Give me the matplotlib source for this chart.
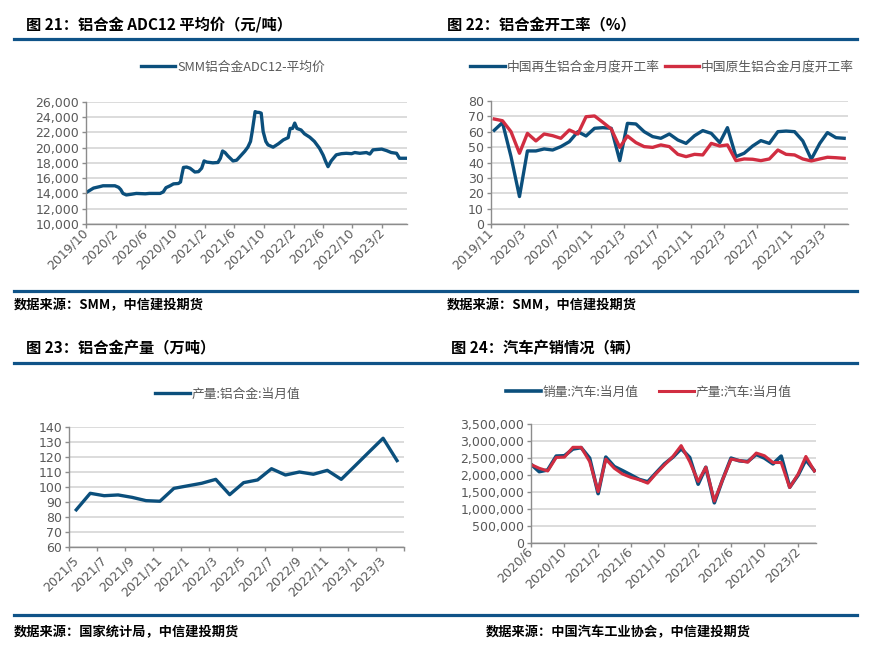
import matplotlib
matplotlib.use("Agg")
import matplotlib.pyplot as plt
import matplotlib.ticker as mticker
from matplotlib.lines import Line2D
import numpy as np
import pandas as pd

plt.rcParams['font.family'] = ['Noto Sans CJK SC', 'DejaVu Sans']

W, H = 888, 649
BLUE = '#0B4F7C'
RED = '#D12D41'
RULE = '#0F5388'
GRAY_TXT = '#595959'
GRID = '#D9D9D9'
SPINE = '#8C8C8C'

# ---- 图21: ADC12 average price ----
adc_dates = [
    "2019-10-01", "2019-11-01", "2019-11-28", "2019-12-10", "2020-01-28", "2020-02-12",
    "2020-02-21", "2020-03-01", "2020-03-15", "2020-04-06", "2020-04-25", "2020-06-01",
    "2020-06-18", "2020-08-01", "2020-08-14", "2020-08-25", "2020-09-11", "2020-09-25",
    "2020-10-15", "2020-10-24", "2020-10-28", "2020-11-05", "2020-11-18", "2020-12-02",
    "2020-12-22", "2021-01-06", "2021-01-19", "2021-01-29", "2021-02-09", "2021-03-06",
    "2021-03-27", "2021-04-06", "2021-04-15", "2021-04-25", "2021-05-07", "2021-05-28",
    "2021-06-12", "2021-06-25", "2021-07-15", "2021-07-28", "2021-08-08", "2021-08-15",
    "2021-08-21", "2021-08-27", "2021-09-05", "2021-09-12", "2021-09-21", "2021-09-29",
    "2021-10-10", "2021-10-19", "2021-11-09", "2021-12-01", "2021-12-21", "2022-01-10",
    "2022-01-18", "2022-01-28", "2022-02-06", "2022-02-15", "2022-03-04", "2022-03-18",
    "2022-04-09", "2022-04-28", "2022-05-19", "2022-06-03", "2022-06-13", "2022-06-23",
    "2022-07-06", "2022-07-27", "2022-08-17", "2022-09-06", "2022-09-28", "2022-10-11",
    "2022-11-01", "2022-11-28", "2022-12-12", "2022-12-25", "2023-01-30", "2023-02-19",
    "2023-03-10", "2023-04-01", "2023-04-13", "2023-05-13",
]
adc_price = [
    14100, 14700, 14900, 15000, 15000, 14800,
    14500, 14000, 13800, 13900, 14000, 13950,
    14000, 14000, 14200, 14750, 15000, 15250,
    15300, 15500, 16200, 17400, 17450, 17300,
    16800, 16850, 17300, 18250, 18100, 18000,
    18050, 18600, 19550, 19350, 18900, 18250,
    18350, 18800, 19500, 20050, 20800, 22100,
    23400, 24700, 24600, 24600, 24500, 22100,
    20800, 20350, 20050, 20500, 21000, 21300,
    22500, 22500, 23200, 22500, 22300, 21800,
    21350, 20800, 19900, 19000, 18200, 17500,
    18250, 19050, 19200, 19250, 19200, 19350,
    19250, 19350, 19150, 19700, 19800, 19600,
    19350, 19250, 18600, 18600,
]

# ---- 图22: operating rates (monthly) ----
rate_months = pd.date_range("2019-11-01", "2023-05-01", freq="MS")
rate_recycled = [61, 66, 44, 18, 47.6, 47.6, 48.9, 48.2, 50.4, 53.6,
                 60.1, 57.3, 62.3, 62.7, 62.3, 41.3, 65.5, 65.1, 60.1, 56.9,
                 55.8, 58.6, 54.7, 52.5, 57.5, 60.8, 59.0, 53.0, 62.7, 43.9,
                 46.1, 50.8, 54.3, 52.5, 60.1, 60.5, 60.1, 54.1, 42.2, 52.5,
                 59.5, 56.2, 55.8]
rate_primary = [68.3, 67.2, 60.1, 46.1, 59.0, 54.1, 58.6, 57.5, 55.8, 61.2,
                58.6, 69.8, 70.3, 66.2, 61.8, 49.9, 57.3, 53.0, 50.4, 49.9,
                51.5, 50.4, 45.4, 43.9, 45.4, 45.0, 52.5, 50.8, 51.5, 41.3,
                42.4, 42.2, 41.3, 42.4, 48.2, 45.4, 45.0, 42.4, 41.1, 42.4,
                43.5, 43.2, 42.8]

# ---- 图23: aluminium alloy output (10k t) ----
out_labels = ["2021/5", "2021/6", "2021/7", "2021/8", "2021/9", "2021/10", "2021/11", "2021/12",
              "2022/1", "2022/2", "2022/3", "2022/4", "2022/5", "2022/6", "2022/7", "2022/8",
              "2022/9", "2022/10", "2022/11", "2022/12", "2023/1", "2023/2", "2023/3", "2023/4"]
out_values = [85, 96, 94.4, 94.9, 93.3, 91.1, 90.7, 99.3, 101, 102.7, 105.3, 95.1,
              103.1, 104.9, 112.4, 108.2, 110.2, 108.7, 111.3, 105.3, 114.4, 123.6, 132.7, 117.8]

# ---- 图24: auto sales / production ----
car_months = pd.date_range("2020-06-01", "2023-04-01", freq="MS")
car_sales = [2.32, 2.10, 2.15, 2.56, 2.57, 2.77, 2.81, 2.50, 1.45, 2.53,
             2.25, 2.13, 2.00, 1.87, 1.80, 2.07, 2.33, 2.53, 2.78, 2.52,
             1.73, 2.23, 1.18, 1.86, 2.50, 2.42, 2.40, 2.61, 2.50, 2.33,
             2.56, 1.64, 2.00, 2.45, 2.13]
car_prod = [2.31, 2.20, 2.12, 2.52, 2.53, 2.82, 2.82, 2.40, 1.51, 2.47,
            2.20, 2.03, 1.93, 1.86, 1.76, 2.05, 2.30, 2.55, 2.87, 2.40,
            1.81, 2.23, 1.23, 1.86, 2.47, 2.43, 2.38, 2.65, 2.57, 2.37,
            2.37, 1.63, 2.03, 2.55, 2.12]

TICK_FONT = 'DejaVu Sans'
TICK_SIZE = 9.0


def fig_rect(x0, y0, x1, y1):
    # pixel box -> figure fraction
    return [x0 / W, 1 - y1 / H, (x1 - x0) / W, (y1 - y0) / H]


def style_axis(ax):
    for s in ['top', 'right']:
        ax.spines[s].set_visible(False)
    for s in ['left', 'bottom']:
        ax.spines[s].set_color(SPINE)
        ax.spines[s].set_linewidth(1.0)
    ax.grid(axis='y', color=GRID, linewidth=1.3)
    ax.set_axisbelow(True)
    ax.tick_params(axis='both', colors=SPINE, labelcolor=GRAY_TXT,
                   labelsize=TICK_SIZE, length=3, width=1.0, direction='out')
    ax.tick_params(axis='y', pad=2)
    ax.tick_params(axis='x', pad=2)
    for lab in ax.get_yticklabels():
        lab.set_family(TICK_FONT)


def date_xticks(ax, ticks):
    ax.set_xticks(ticks)
    ax.set_xticklabels([f"{d.year}/{d.month}" for d in ticks], rotation=45,
                       ha='right', va='center', rotation_mode='anchor',
                       family=TICK_FONT)


def legend(ax, cx, cy, ncol=1, colsp=0.4):
    ax.legend(loc='center', bbox_to_anchor=(cx / W, 1 - cy / H),
              bbox_transform=fig.transFigure, ncol=ncol, frameon=False,
              fontsize=9.2, labelcolor=GRAY_TXT, handlelength=2.7,
              handletextpad=0.15, columnspacing=colsp, borderpad=0)


fig = plt.figure(figsize=(W / 100, H / 100), dpi=100)

# panel 21
ax1 = fig.add_axes(fig_rect(86, 101.7, 407, 224))
ax1.plot(pd.to_datetime(adc_dates), adc_price, color=BLUE, lw=2.4,
         label="SMM铝合金ADC12-平均价", solid_joinstyle='round')
ax1.set_ylim(10000, 26000)
ax1.set_yticks(np.arange(10000, 26001, 2000))
ax1.yaxis.set_major_formatter(mticker.StrMethodFormatter('{x:,.0f}'))
ax1.set_xlim(pd.Timestamp("2019-10-01"), pd.Timestamp("2023-05-14"))
style_axis(ax1)
date_xticks(ax1, pd.date_range("2019-10-01", "2023-02-01", freq="4MS"))
legend(ax1, 233, 67)

# panel 22
ax2 = fig.add_axes(fig_rect(490.7, 101, 848, 224.3))
rate_x = rate_months + pd.Timedelta(days=13)
ax2.plot(rate_x, rate_recycled, color=BLUE, lw=2.4, label="中国再生铝合金月度开工率")
ax2.plot(rate_x, rate_primary, color=RED, lw=2.4, label="中国原生铝合金月度开工率")
ax2.set_ylim(0, 80)
ax2.set_yticks(np.arange(0, 81, 10))
ax2.set_xlim(pd.Timestamp("2019-11-01"), pd.Timestamp("2023-05-28"))
style_axis(ax2)
date_xticks(ax2, pd.date_range("2019-11-01", "2023-03-01", freq="4MS"))
legend(ax2, 662, 67, ncol=2, colsp=0.4)

# panel 23
ax3 = fig.add_axes(fig_rect(69.3, 427.3, 404, 547.3))
cat_x = np.arange(len(out_values)) + 0.5
ax3.plot(cat_x, out_values, color=BLUE, lw=2.4, label="产量:铝合金:当月值")
ax3.set_ylim(60, 140)
ax3.set_yticks(np.arange(60, 141, 10))
ax3.set_xlim(0, len(out_values))
style_axis(ax3)
ax3.set_xticks(np.arange(0, len(out_values) + 1, 2))
ax3.set_xticklabels([])
ax3.set_xticks(cat_x[::2], minor=True)
ax3.set_xticklabels(out_labels[::2], minor=True, rotation=45, ha='right',
                    va='center', rotation_mode='anchor', family=TICK_FONT)
ax3.tick_params(axis='x', which='minor', length=0, labelsize=TICK_SIZE,
                labelcolor=GRAY_TXT, pad=8)
legend(ax3, 228, 394)

# panel 24
ax4 = fig.add_axes(fig_rect(531, 424.3, 816, 542.7))
ax4.plot(car_months, np.array(car_sales) * 1e6, color=BLUE, lw=2.6, label="销量:汽车:当月值")
ax4.plot(car_months, np.array(car_prod) * 1e6, color=RED, lw=2.2, label="产量:汽车:当月值")
ax4.set_ylim(0, 3500000)
ax4.set_yticks(np.arange(0, 3500001, 500000))
ax4.yaxis.set_major_formatter(mticker.StrMethodFormatter('{x:,.0f}'))
ax4.set_xlim(pd.Timestamp("2020-06-01"), pd.Timestamp("2023-04-07"))
style_axis(ax4)
date_xticks(ax4, pd.date_range("2020-06-01", "2023-02-01", freq="4MS"))
legend(ax4, 649, 392, ncol=2, colsp=1.6)

# titles, rules and sources
titles = [(26, 24, "图 21：铝合金 ADC12 平均价（元/吨）"),
          (447, 24, "图 22：铝合金开工率（%）"),
          (26, 348, "图 23：铝合金产量（万吨）"),
          (451, 348, "图 24：汽车产销情况（辆）")]
for x, y, t in titles:
    fig.text(x / W, 1 - y / H, t, fontsize=11, fontweight='bold', va='center', ha='left')

for y in [39, 291, 363, 615]:
    fig.add_artist(Line2D([14 / W, 857 / W], [1 - y / H, 1 - y / H],
                          color=RULE, lw=2.3, transform=fig.transFigure))

sources = [(14, 305, "数据来源：SMM，中信建投期货"),
           (447, 305, "数据来源：SMM，中信建投期货"),
           (14, 632, "数据来源：国家统计局，中信建投期货"),
           (486, 632, "数据来源：中国汽车工业协会，中信建投期货")]
for x, y, t in sources:
    fig.text(x / W, 1 - y / H, t, fontsize=9.5, fontweight='bold', va='center', ha='left')

fig.savefig("out.png", dpi=100)
